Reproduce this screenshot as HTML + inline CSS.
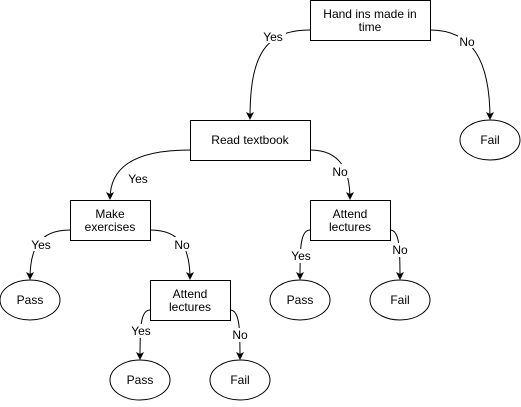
<!DOCTYPE html>
<html><head><style>body{margin:0;background:#fff}</style></head><body>
<svg width="521" height="402" xmlns="http://www.w3.org/2000/svg" font-family="Liberation Sans, sans-serif" font-size="12">
<defs><marker id="a" markerWidth="10" markerHeight="10" refX="7" refY="4" orient="auto" markerUnits="userSpaceOnUse"><path d="M0,0 L8,4 L0,8 L2,4 Z" fill="#000"/></marker></defs>
<g fill="none" stroke="#000" stroke-width="1" marker-end="url(#a)">
<path d="M310,30 C262,30 250,60 250,119"/>
<path d="M430,30 C472,30 490,60 490,119"/>
<path d="M190,150 C130,150 110,170 110,199"/>
<path d="M310,150 C340,150 350,170 350,199"/>
<path d="M70,230 C38,230 30,250 30,279"/>
<path d="M150,230 C182,230 190,250 190,279"/>
<path d="M150,310 C140,310 140,330 140,359"/>
<path d="M230,310 C240,310 240,330 240,359"/>
<path d="M310,230 C300,230 300,250 300,279"/>
<path d="M390,230 C400,230 400,250 400,279"/>
</g>
<g fill="#fff" stroke="#000">
<rect x="310.5" y="0.5" width="120" height="40"/>
<rect x="190.5" y="120.5" width="120" height="40"/>
<rect x="70.5" y="200.5" width="80" height="40"/>
<rect x="150.5" y="280.5" width="80" height="40"/>
<rect x="310.5" y="200.5" width="80" height="40"/>
<ellipse cx="490" cy="140" rx="30" ry="20"/>
<ellipse cx="30" cy="300" rx="30" ry="20"/>
<ellipse cx="140" cy="380" rx="30" ry="20"/>
<ellipse cx="240" cy="380" rx="30" ry="20"/>
<ellipse cx="300" cy="300" rx="30" ry="20"/>
<ellipse cx="400" cy="300" rx="30" ry="20"/>
</g>
<g text-anchor="middle" fill="#000">
<text x="370" y="18">Hand ins made in</text><text x="370" y="31">time</text>
<text x="250" y="144">Read textbook</text>
<text x="110" y="218">Make</text><text x="110" y="231">exercises</text>
<text x="190" y="298">Attend</text><text x="190" y="311">lectures</text>
<text x="350" y="218">Attend</text><text x="350" y="231">lectures</text>
<text x="490" y="144">Fail</text>
<text x="30" y="304">Pass</text>
<text x="140" y="384">Pass</text>
<text x="240" y="384">Fail</text>
<text x="300" y="304">Pass</text>
<text x="400" y="304">Fail</text>
</g>
<g text-anchor="middle" font-size="12">
<rect x="260" y="29" width="26" height="14" fill="#fff"/><text x="273" y="41">Yes</text>
<rect x="458" y="34" width="18" height="14" fill="#fff"/><text x="467" y="46">No</text>
<rect x="125" y="171" width="26" height="14" fill="#fff"/><text x="138" y="183">Yes</text>
<rect x="331" y="164" width="18" height="14" fill="#fff"/><text x="340" y="176">No</text>
<rect x="28" y="237" width="26" height="14" fill="#fff"/><text x="41" y="249">Yes</text>
<rect x="173" y="237" width="18" height="14" fill="#fff"/><text x="182" y="249">No</text>
<rect x="128" y="324" width="26" height="14" fill="#fff"/><text x="141" y="335">Yes</text>
<rect x="231" y="328" width="18" height="14" fill="#fff"/><text x="240" y="339">No</text>
<rect x="288" y="249" width="26" height="14" fill="#fff"/><text x="301" y="260">Yes</text>
<rect x="391" y="243" width="18" height="14" fill="#fff"/><text x="400" y="254">No</text>
</g>
</svg>
</body></html>
